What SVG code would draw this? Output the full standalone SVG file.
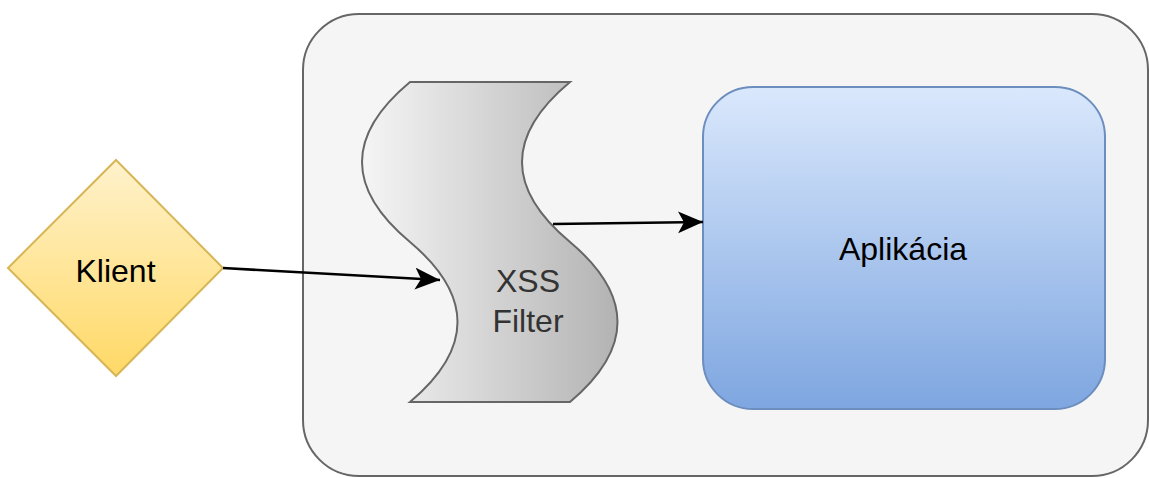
<svg xmlns="http://www.w3.org/2000/svg" width="1149" height="478" viewBox="0 0 1149 478">
  <defs>
    <linearGradient id="gradClient" x1="0" y1="0" x2="0" y2="1">
      <stop offset="0" stop-color="#fff2cc"/>
      <stop offset="1" stop-color="#ffd966"/>
    </linearGradient>
    <linearGradient id="gradFilter" x1="0" y1="0" x2="1" y2="0">
      <stop offset="0" stop-color="#f5f5f5"/>
      <stop offset="1" stop-color="#b3b3b3"/>
    </linearGradient>
    <linearGradient id="gradApp" x1="0" y1="0" x2="0" y2="1">
      <stop offset="0" stop-color="#dae8fc"/>
      <stop offset="1" stop-color="#7ea6e0"/>
    </linearGradient>
    <marker id="arrow" markerUnits="userSpaceOnUse" markerWidth="28" markerHeight="24" refX="25" refY="11" orient="auto">
      <path d="M0,0 L25,11 L0,22 L6,11 Z" fill="#000"/>
    </marker>
    <style>
      text { font-family: "Liberation Sans", Arial, Helvetica, sans-serif; font-size: 32px; text-anchor: middle; }
      .edge { fill: none; stroke: #000; stroke-width: 2.6; marker-end: url(#arrow); }
    </style>
  </defs>

  <rect width="1149" height="478" fill="#ffffff"/>

  <!-- container -->
  <g id="container">
    <rect x="303" y="14" width="845" height="462" rx="56" ry="56" fill="#f5f5f5" stroke="#666666" stroke-width="2"/>
  </g>

  <!-- client -->
  <g id="klient">
    <polygon points="116,160 223,268 116,376 8,268" fill="url(#gradClient)" stroke="#d6b656" stroke-width="2"/>
    <text x="115.5" y="282" fill="#000">Klient</text>
  </g>

  <!-- filter (tape shape) -->
  <g id="xss-filter">
    <path d="M410,82 Q314,162 410,242 Q505,322 410,402 L570,402 Q665,322 570,242 Q474,162 570,82 Z" fill="url(#gradFilter)" stroke="#666666" stroke-width="2"/>
    <text x="528" y="292" fill="#333333">XSS</text>
    <text x="528" y="332" fill="#333333">Filter</text>
  </g>

  <!-- application -->
  <g id="aplikacia">
    <rect x="703" y="87" width="402" height="322" rx="50" ry="50" fill="url(#gradApp)" stroke="#6c8ebf" stroke-width="2"/>
    <text x="903" y="260" fill="#000">Aplikácia</text>
  </g>

  <!-- connectors -->
  <g id="connectors">
    <path class="edge" d="M223,268 L440,280"/>
    <path class="edge" d="M553,224 L703,222"/>
  </g>
</svg>
